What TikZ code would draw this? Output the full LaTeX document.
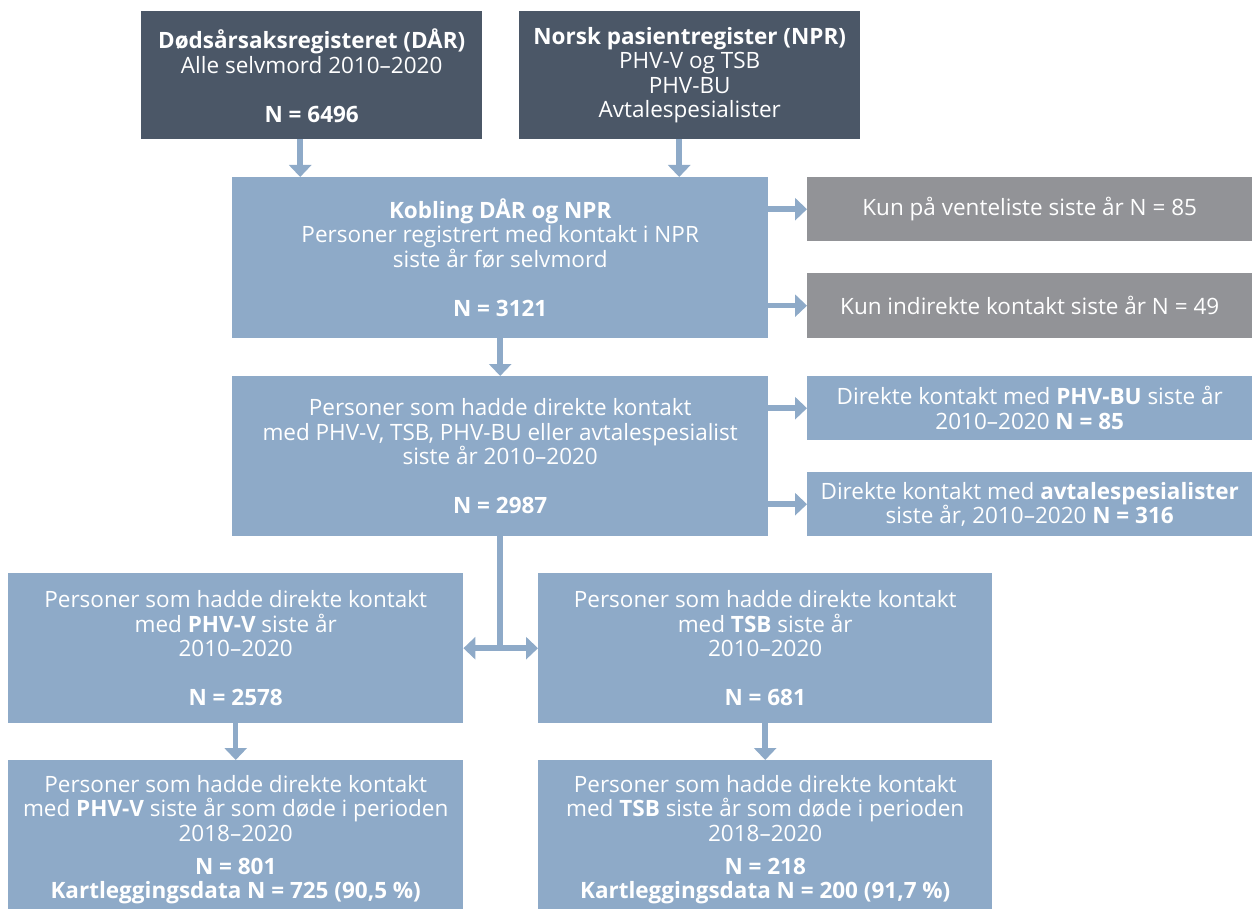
\documentclass[tikz,border=0pt]{standalone}
\usepackage{fontspec}
\setmainfont{Open Sans}
\usetikzlibrary{arrows.meta}
\definecolor{darkbox}{RGB}{75,87,103}
\definecolor{bluebox}{RGB}{142,170,200}
\definecolor{graybox}{RGB}{146,147,151}
\tikzset{
  box/.style={anchor=north west, inner sep=0pt, align=center, text=white,
    font=\fontsize{22.5}{24.6}\selectfont},
  darkb/.style={box, fill=darkbox},
  blueb/.style={box, fill=bluebox},
  grayb/.style={box, fill=graybox},
  arr/.style={draw=bluebox, line width=5.5pt, -{Triangle[length=12pt,width=22pt]}},
  dblarr/.style={draw=bluebox, line width=5.5pt, {Triangle[length=12pt,width=22pt]}-{Triangle[length=12pt,width=22pt]}},
  ln/.style={draw=bluebox, line width=5.5pt}
}
\begin{document}
\begin{tikzpicture}[x=1pt,y=-1pt]
\useasboundingbox (0,0) rectangle (1252,909);
% top
\node[darkb, minimum width=341pt, minimum height=128pt] (dar) at (141,11)
  {\rule{0pt}{21pt}\textbf{Dødsårsaksregisteret (DÅR)}\\Alle selvmord 2010–2020\\[25pt]\textbf{N = 6496}};
\node[darkb, minimum width=341pt, minimum height=128pt] (npr) at (519,11)
  {\textbf{Norsk pasientregister (NPR)}\\PHV-V og TSB\\PHV-BU\\Avtalespesialister};
% kobling
\node[blueb, minimum width=536pt, minimum height=161pt] (kob) at (232,177)
  {\textbf{Kobling DÅR og NPR}\\Personer registrert med kontakt i NPR\\siste år før selvmord\\[24.6pt]\textbf{N = 3121}};
\node[grayb, minimum width=445pt, minimum height=64pt] (g1) at (807,177)
  {Kun på venteliste siste år N = 85};
\node[grayb, minimum width=445pt, minimum height=65pt] (g2) at (807,273)
  {Kun indirekte kontakt siste år N = 49};
% 2987
\node[blueb, minimum width=536pt, minimum height=160pt] (dir) at (232,376)
  {Personer som hadde direkte kontakt\\med PHV-V, TSB, PHV-BU eller avtalespesialist\\siste år 2010–2020\\[24.6pt]\textbf{N = 2987}};
\node[blueb, minimum width=445pt, minimum height=64pt] (b1) at (807,376)
  {Direkte kontakt med \textbf{PHV-BU} siste år\\2010–2020 \textbf{N = 85}};
\node[blueb, minimum width=445pt, minimum height=64pt] (b2) at (807,472)
  {Direkte kontakt med \textbf{avtalespesialister}\\siste år, 2010–2020 \textbf{N = 316}};
% PHV-V / TSB
\node[blueb, minimum width=455pt, minimum height=150pt] (phv) at (8,573)
  {Personer som hadde direkte kontakt\\med \textbf{PHV-V} siste år\\2010–2020\\[24.6pt]\textbf{N = 2578}};
\node[blueb, minimum width=454pt, minimum height=150pt] (tsb) at (538,573)
  {Personer som hadde direkte kontakt\\med \textbf{TSB} siste år\\2010–2020\\[24.6pt]\textbf{N = 681}};
% bottom
\node[blueb, minimum width=455pt, minimum height=149pt] (phvd) at (8,760)
  {\rule{0pt}{27pt}Personer som hadde direkte kontakt\\med \textbf{PHV-V} siste år som døde i perioden\\2018–2020\\[8.5pt]\textbf{N = 801}\\\textbf{Kartleggingsdata N = 725 (90,5 \%)}};
\node[blueb, minimum width=454pt, minimum height=149pt] (tsbd) at (538,760)
  {\rule{0pt}{27pt}Personer som hadde direkte kontakt\\med \textbf{TSB} siste år som døde i perioden\\2018–2020\\[8.5pt]\textbf{N = 218}\\\textbf{Kartleggingsdata N = 200 (91,7 \%)}};
% connectors
\coordinate (a1) at ([xshift=-11.5pt]dar.south);
\coordinate (a2) at ([xshift=-10.5pt]npr.south);
\draw[arr] (a1) -- (a1 |- kob.north);
\draw[arr] (a2) -- (a2 |- kob.north);
\draw[arr] (kob.east |- g1.west) -- (g1.west);
\draw[arr] (kob.east |- g2.west) -- (g2.west);
\draw[arr] (kob.south) -- (dir.north);
\draw[arr] (dir.east |- b1.west) -- (b1.west);
\draw[arr] (dir.east |- b2.west) -- (b2.west);
\coordinate (j) at (dir.south |- phv.east);
\draw[ln] (dir.south) -- ([yshift=-2.75pt]j);
\draw[dblarr] (phv.east) -- (tsb.west);
\draw[arr] (phv.south) -- (phvd.north);
\draw[arr] (tsb.south) -- (tsbd.north);
\end{tikzpicture}
\end{document}
